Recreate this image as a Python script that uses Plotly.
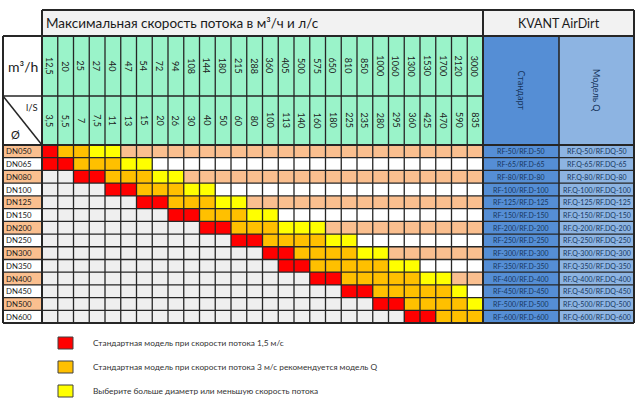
import plotly.graph_objects as go

title_text = "Максимальная скорость потока в м³/ч и л/с"
brand_text = "KVANT AirDirt"
model_headers = ["Стандарт", "Модель Q"]

flow_m3h = [12.5, 20, 25, 27, 40, 47, 54, 72, 94, 108, 144, 180, 215, 288,
            360, 405, 500, 575, 650, 810, 850, 1000, 1060, 1300, 1530, 1700, 2120, 3000]
flow_ls = [3.5, 5.5, 7, 7.5, 11, 13, 15, 20, 26, 30, 40, 50, 60, 80,
           100, 113, 140, 160, 180, 225, 235, 280, 295, 360, 425, 470, 590, 835]
dn_sizes = [50, 65, 80, 100, 125, 150, 200, 250, 300, 350, 400, 450, 500, 600]

# one string per DN row: '.' = too small, R/O/Y = legend classes, '-' = empty
cell_status = [
    "ROOYY" + "-" * 23,
    "RROOOYY" + "-" * 21,
    "." * 2 + "RROOOYY" + "-" * 19,
    "." * 4 + "RROOOYY" + "-" * 17,
    "." * 6 + "RROOOYY" + "-" * 15,
    "." * 8 + "RROOOYY" + "-" * 13,
    "." * 10 + "RROOOYYY" + "-" * 10,
    "." * 12 + "RROOOOYY" + "-" * 8,
    "." * 14 + "RROOOOYY" + "-" * 6,
    "." * 15 + "RROOOOOYY" + "-" * 4,
    "." * 17 + "RROOOOOYY" + "-" * 2,
    "." * 19 + "RROOOOOY" + "-",
    "." * 21 + "RROOOOY",
    "." * 23 + "RROOO",
]

legend_labels = [
    "Стандартная модель при скорости потока 1,5 м/с",
    "Стандартная модель при скорости потока 3 м/с рекомендуется модель Q",
    "Выберите больше диаметр или меньшую скорость потока",
]

# palette, index = code used in the heatmap
palette = ["#efefef", "#ffffff", "#fabf8f", "#ff0000", "#ffc000", "#ffff00",
           "#9af3c9", "#558ed5", "#8db4e2", "#f2f2f2"]
NA, WHITE, PEACH, RED, ORANGE, YELLOW, GREEN, BLUE1, BLUE2, HEAD = range(10)
status_code = {"R": RED, "O": ORANGE, "Y": YELLOW}

FONT = "Lato"
LINE = "#262626"
NAVY = "#17365d"

# pixel layout of the table
X0, X_LAB, COL_W = 3, 42, 15.75
n_cols = len(flow_m3h)
X_DATA = X_LAB + COL_W * n_cols
X_MID, X_END = 559, 634
Y_TOP, Y_H1, Y_H2, Y_H3 = 10, 36, 96, 145
ROW_H = 12.72
Y_END = Y_H3 + ROW_H * len(dn_sizes)

x_edges = [X0, X_LAB] + [X_LAB + COL_W * (k + 1) for k in range(n_cols)] + [X_MID, X_END]
y_edges = [Y_TOP, Y_H1, Y_H2, Y_H3] + [Y_H3 + ROW_H * (i + 1) for i in range(len(dn_sizes))]

z = [[None] + [HEAD] * n_cols + [HEAD, HEAD]]
z.append([WHITE] + [GREEN] * n_cols + [BLUE1, BLUE2])
z.append([WHITE] + [GREEN] * n_cols + [BLUE1, BLUE2])
for i, row in enumerate(cell_status):
    bg = PEACH if i % 2 == 0 else WHITE
    cells = [status_code.get(c, NA if c == "." else bg) for c in row]
    z.append([bg] + cells + [BLUE1, BLUE2])

n = len(palette)
colorscale = []
for i, c in enumerate(palette):
    colorscale += [[i / n, c], [(i + 1) / n, c]]

fig = go.Figure(go.Heatmap(
    x=x_edges, y=y_edges, z=z, zmin=0, zmax=n - 1,
    colorscale=colorscale, showscale=False, hoverinfo="skip",
))

shapes = []


def hline(y, x0, x1, w=1.3):
    shapes.append(dict(type="line", x0=x0, x1=x1, y0=y, y1=y,
                       line=dict(color=LINE, width=w)))


def vline(x, y0, y1, w=1.3):
    shapes.append(dict(type="line", x0=x, x1=x, y0=y0, y1=y1,
                       line=dict(color=LINE, width=w)))


for k in range(1, n_cols):
    vline(X_LAB + COL_W * k, Y_H1, Y_END)
for i in range(1, len(dn_sizes)):
    hline(Y_H3 + ROW_H * i, X0, X_END)
hline(Y_H2, X0, X_DATA)
vline(X_MID, Y_H1, Y_END, 1.6)
hline(Y_TOP, X_LAB, X_END, 2)
hline(Y_H1, X0, X_END, 2)
hline(Y_H3, X0, X_END, 2)
hline(Y_END, X0, X_END, 2)
vline(X0, Y_H1, Y_END, 2)
vline(X_LAB, Y_TOP, Y_END, 2)
vline(X_DATA, Y_TOP, Y_END, 2)
vline(X_END, Y_TOP, Y_END, 2)
shapes.append(dict(type="line", x0=X0, y0=Y_H2, x1=X_LAB, y1=Y_H3,
                   line=dict(color=LINE, width=1.5)))

ann = []


def label(x, y, text, size, anchor="center", angle=0, color="#1a1a1a"):
    ann.append(dict(x=x, y=y, text=text, showarrow=False, textangle=angle,
                    xanchor=anchor, yanchor="middle",
                    font=dict(family=FONT, size=size, color=color)))


label(X_LAB + 2, (Y_TOP + Y_H1) / 2, title_text, 13.5, "left")
label((X_DATA + X_END) / 2, (Y_TOP + Y_H1) / 2, brand_text, 12.5)
label((X0 + X_LAB) / 2, (Y_H1 + Y_H2) / 2, "m³/h", 14)
label(32, Y_H2 + 11, "l/S", 9.5)
label(15, Y_H3 - 11, "Ø", 11)


def fmt(v):
    return f"{v:g}".replace(".", ",")


for k, (q, l) in enumerate(zip(flow_m3h, flow_ls)):
    xc = X_LAB + COL_W * (k + 0.5)
    label(xc, (Y_H1 + Y_H2) / 2, fmt(q), 9, angle=90)
    label(xc, (Y_H2 + Y_H3) / 2, fmt(l), 9, angle=90)

label((X_DATA + X_MID) / 2, (Y_H1 + Y_H3) / 2, model_headers[0], 9, angle=90, color=NAVY)
label((X_MID + X_END) / 2, (Y_H1 + Y_H3) / 2, model_headers[1], 9, angle=90, color=NAVY)

for i, d in enumerate(dn_sizes):
    yc = Y_H3 + ROW_H * (i + 0.5)
    label(X0 + 1, yc, f"DN{d:03d}", 7.8, "left")
    label((X_DATA + X_MID) / 2, yc, f"RF-{d}/RF.D-{d}", 7, color=NAVY)
    label((X_MID + X_END) / 2, yc, f"RF.Q-{d}/RF.DQ-{d}", 7, color=NAVY)

LEG_X, LEG_Y, LEG_STEP, SW = 58, 343, 24, 15
for i, (txt, code) in enumerate(zip(legend_labels, [RED, ORANGE, YELLOW])):
    yc = LEG_Y + LEG_STEP * i
    shapes.append(dict(type="rect", x0=LEG_X, x1=LEG_X + SW, y0=yc - 6, y1=yc + 6,
                       fillcolor=palette[code], line=dict(color="#404040", width=1)))
    label(LEG_X + 33, yc, txt, 8.3, "left", color="#333333")

fig.update_layout(
    width=640, height=404, margin=dict(l=0, r=0, t=0, b=0),
    paper_bgcolor="white", plot_bgcolor="white",
    shapes=shapes, annotations=ann, showlegend=False,
)
fig.update_xaxes(range=[0, 640], visible=False, fixedrange=True)
fig.update_yaxes(range=[404, 0], visible=False, fixedrange=True)

# page body has a default 8px margin; drop it so the figure sits at 0,0
fig.write_html("out.html", config={"displayModeBar": False},
               post_script="document.body.style.margin='0';")
